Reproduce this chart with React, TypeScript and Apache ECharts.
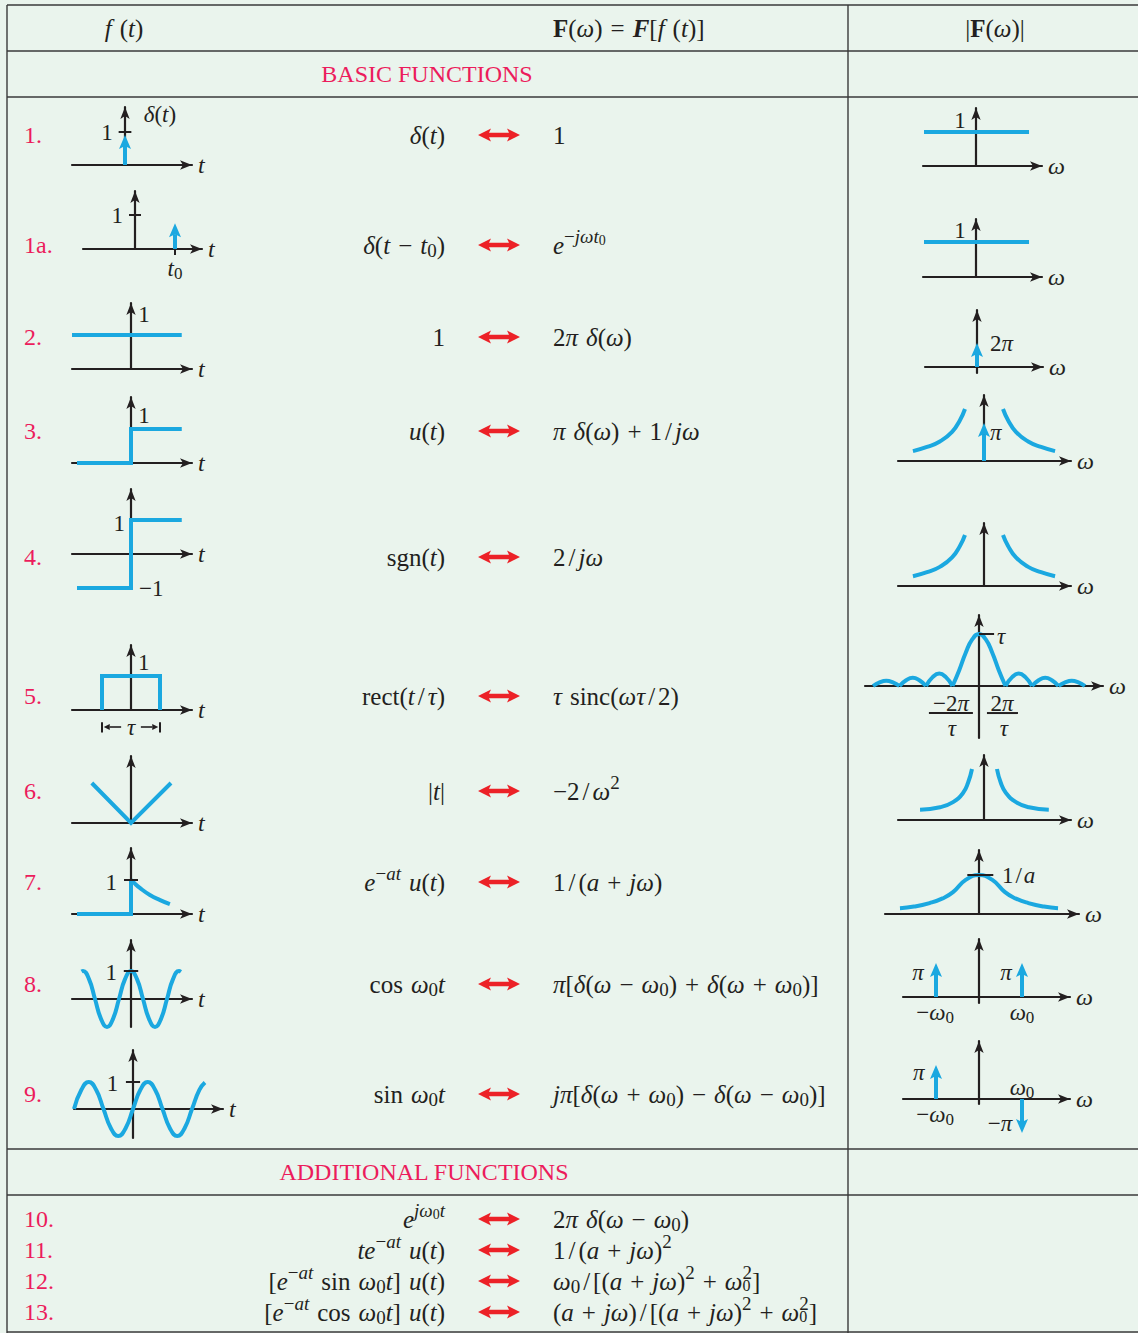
import React, { useEffect, useRef } from 'react';
import * as echarts from 'echarts';

const PAGE_W = 1138;
const PAGE_H = 1333;
const SERIF = '"Liberation Serif", "Times New Roman", "DejaVu Serif", serif';
const INK = '#231F20';
const BLUE = '#1BA8E0';
const PINK = '#EC1C5C';
const RED = '#EC2127';
const BG = '#EAF4ED';
const RULE = '#3A3A3A';

/* ---------------- table text ---------------- */
const rowLabels = ['1.', '1a.', '2.', '3.', '4.', '5.', '6.', '7.', '8.', '9.', '10.', '11.', '12.', '13.'];
const timeFunctions = [
  'δ(t)', 'δ(t − t_0)', '1', 'u(t)', 'sgn(t)', 'rect(t/τ)', '|t|', 'e^{−at} u(t)',
  'cos ω_0t', 'sin ω_0t', 'e^{jω_0t}', 'te^{−at} u(t)', '[e^{−at} sin ω_0t] u(t)', '[e^{−at} cos ω_0t] u(t)',
];
const transforms = [
  '1', 'e^{−jωt_0}', '2π δ(ω)', 'π δ(ω) + 1/jω', '2/jω', 'τ sinc(ωτ/2)', '−2/ω^2', '1/(a + jω)',
  'π[δ(ω − ω_0) + δ(ω + ω_0)]', 'jπ[δ(ω + ω_0) − δ(ω − ω_0)]', '2π δ(ω − ω_0)', '1/(a + jω)^2',
  'ω_0/[(a + jω)^2 + ω_0^2]', '(a + jω)/[(a + jω)^2 + ω_0^2]',
];
const sectionTitles = ['BASIC FUNCTIONS', 'ADDITIONAL FUNCTIONS'];

/* ---------------- sketch data (semantic units) ---------------- */
// row 1
const impulseAtOrigin = [[0, 0.91]];
const ticksRow1 = [[-0.12, 1, 0.12, 1]];
const flatMagnitude1 = [[-1, 1], [1.02, 1]];
// row 1a
const impulseShifted = [[1, 0.76]];
const ticksRow1a = [[-0.15, 1, 0.15, 1], [1, 0, 1, -0.18]];
const flatMagnitude1a = [[-1, 1], [1.02, 1]];
// row 2
const constantOne = [[-1, 1], [0.86, 1]];
const impulse2pi = [[0, 1]];
// row 3
const unitStep = [[-1, 0], [0, 0], [0, 1], [0.94, 1]];
const hyperbolaLeft = [[-3.74, 0.19], [-3.0, 0.27], [-2.3, 0.38], [-1.68, 0.56], [-1.26, 0.79], [-1, 1]];
const hyperbolaRight = [[1, 1], [1.26, 0.79], [1.68, 0.56], [2.3, 0.38], [3.0, 0.27], [3.74, 0.19]];
const impulsePi = [[0, 0.73]];
// row 4
const signum = [[-1, -1], [0, -1], [0, 1], [0.94, 1]];
// row 5
const rectPulse = [[-0.5, 0], [-0.5, 1], [0.5, 1], [0.5, 0]];
const tauBars = [[-0.5, -0.36, -0.5, -0.66], [0.5, -0.36, 0.5, -0.66]];
const tauArrows = [[-0.17, -0.5, -0.47, -0.5], [0.17, -0.5, 0.47, -0.5]];
const sincMainLobe = [[-1, 0], [-0.75, 0.3], [-0.5, 0.64], [-0.25, 0.9], [0, 1], [0.25, 0.9], [0.5, 0.64], [0.75, 0.3], [1, 0]];
const sincLobes = [
  [[-4, 0], [-3.75, 0.07], [-3.5, 0.1], [-3.25, 0.07], [-3, 0]],
  [[-3, 0], [-2.75, 0.11], [-2.5, 0.16], [-2.25, 0.11], [-2, 0]],
  [[-2, 0], [-1.75, 0.17], [-1.5, 0.24], [-1.25, 0.17], [-1, 0]],
  [[1, 0], [1.25, 0.17], [1.5, 0.24], [1.75, 0.17], [2, 0]],
  [[2, 0], [2.25, 0.11], [2.5, 0.16], [2.75, 0.11], [3, 0]],
  [[3, 0], [3.25, 0.07], [3.5, 0.1], [3.75, 0.07], [4, 0]],
];
const sincPeakTick = [[0, 1, 0.57, 1]];
const fractionBars = [[-1.89, -0.52, -0.23, -0.52], [0.3, -0.52, 1.47, -0.52]];
// row 6
const absT = [[-0.98, 1], [0, 0], [1, 1]];
const invSquareLeft = [[-5.33, 0.2], [-3.67, 0.25], [-2.58, 0.35], [-1.75, 0.53], [-1.33, 0.73], [-1, 1]];
const invSquareRight = [[1.08, 1], [1.4, 0.73], [1.83, 0.53], [2.67, 0.35], [3.75, 0.25], [5.4, 0.2]];
// row 7
const stepPart7 = [[-1, 0], [0, 0], [0, 1]];
const decay7 = [[0, 1], [0.04, 0.94], [0.17, 0.76], [0.35, 0.56], [0.54, 0.41], [0.72, 0.29]];
const ticksRow7 = [[-0.13, 1, 0.13, 1]];
const lorentzian = [[-3.04, 0.15], [-2.5, 0.19], [-1.9, 0.28], [-1.4, 0.4], [-1, 0.56], [-0.5, 0.88], [0, 1],
  [0.5, 0.88], [1, 0.56], [1.4, 0.4], [1.9, 0.28], [2.5, 0.19], [3.04, 0.15]];
const ticksRow7F = [[-0.45, 1, 0.55, 1]];
// row 8
const cosWave = [[-1.03, 0.98], [-1, 1], [-0.875, 0.71], [-0.75, 0], [-0.625, -0.71], [-0.5, -1], [-0.375, -0.71],
  [-0.25, 0], [-0.125, 0.71], [0, 1], [0.125, 0.71], [0.25, 0], [0.375, -0.71], [0.5, -1], [0.625, -0.71],
  [0.75, 0], [0.875, 0.71], [1, 1], [1.04, 0.97]];
const ticksRow8 = [[-0.15, 1, 0.15, 1]];
const cosImpulses = [[-1, 1], [1, 1]];
// row 9
const sinWave = [[-1, 0], [-0.875, 0.71], [-0.75, 1], [-0.625, 0.71], [-0.5, 0], [-0.375, -0.71], [-0.25, -1],
  [-0.125, -0.71], [0, 0], [0.125, 0.71], [0.25, 1], [0.375, 0.71], [0.5, 0], [0.625, -0.71], [0.75, -1],
  [0.875, -0.71], [1, 0], [1.125, 0.71], [1.22, 0.98]];
const ticksRow9 = [[-0.12, 1, 0.12, 1]];
const sinImpulses = [[-1, 1], [1, -1]];

/* ---------------- sketch definitions ---------------- */
type Ann = { at: number[]; text: string; align?: string };
type Sketch = {
  axis: string;
  curves?: { data: number[][]; smooth?: boolean }[];
  deltas?: number[][];
  ticks?: number[][];
  dims?: number[][];
  labels?: Ann[];
};

const sketches: Sketch[] = [
  { axis: 't', deltas: impulseAtOrigin, ticks: ticksRow1,
    labels: [{ at: [-0.23, 1.0], text: '1', align: 'right' }, { at: [0.66, 1.52], text: 'δ(t)' }] },
  { axis: 'ω', curves: [{ data: flatMagnitude1 }], labels: [{ at: [-0.31, 1.35], text: '1' }] },
  { axis: 't', deltas: impulseShifted, ticks: ticksRow1a,
    labels: [{ at: [-0.3, 1.0], text: '1', align: 'right' }, { at: [1, -0.56], text: 't_0' }] },
  { axis: 'ω', curves: [{ data: flatMagnitude1a }], labels: [{ at: [-0.31, 1.34], text: '1' }] },
  { axis: 't', curves: [{ data: constantOne }], labels: [{ at: [0.22, 1.59], text: '1' }] },
  { axis: 'ω', deltas: impulse2pi, labels: [{ at: [0.25, 1.0], text: '2π', align: 'left' }] },
  { axis: 't', curves: [{ data: unitStep }], labels: [{ at: [0.24, 1.41], text: '1' }] },
  { axis: 'ω', curves: [{ data: hyperbolaLeft, smooth: true }, { data: hyperbolaRight, smooth: true }],
    deltas: impulsePi, labels: [{ at: [0.32, 0.54], text: 'π', align: 'left' }] },
  { axis: 't', curves: [{ data: signum }],
    labels: [{ at: [-0.11, 0.91], text: '1', align: 'right' }, { at: [0.15, -1], text: '−1', align: 'left' }] },
  { axis: 'ω', curves: [{ data: hyperbolaLeft, smooth: true }, { data: hyperbolaRight, smooth: true }] },
  { axis: 't', curves: [{ data: rectPulse }], ticks: tauBars, dims: tauArrows,
    labels: [{ at: [0.22, 1.41], text: '1' }, { at: [0, -0.5], text: 'τ' }] },
  { axis: 'ω', curves: [{ data: sincMainLobe, smooth: true }, ...sincLobes.map((d) => ({ data: d, smooth: true }))],
    ticks: [...sincPeakTick, ...fractionBars],
    labels: [
      { at: [0.68, 0.95], text: 'τ', align: 'left' },
      { at: [-1.06, -0.33], text: '−2π' }, { at: [-1.02, -0.81], text: 'τ' },
      { at: [0.87, -0.33], text: '2π' }, { at: [0.94, -0.81], text: 'τ' },
    ] },
  { axis: 't', curves: [{ data: absT }] },
  { axis: 'ω', curves: [{ data: invSquareLeft, smooth: true }, { data: invSquareRight, smooth: true }] },
  { axis: 't', curves: [{ data: stepPart7 }, { data: decay7, smooth: true }], ticks: ticksRow7,
    labels: [{ at: [-0.26, 0.94], text: '1', align: 'right' }] },
  { axis: 'ω', curves: [{ data: lorentzian, smooth: true }], ticks: ticksRow7F,
    labels: [{ at: [0.88, 1.0], text: '1/a', align: 'left' }] },
  { axis: 't', curves: [{ data: cosWave, smooth: true }], ticks: ticksRow8,
    labels: [{ at: [-0.29, 0.93], text: '1', align: 'right' }] },
  { axis: 'ω', deltas: cosImpulses,
    labels: [
      { at: [-1.42, 0.71], text: 'π' }, { at: [0.63, 0.71], text: 'π' },
      { at: [-1.02, -0.47], text: '−ω_0' }, { at: [1.0, -0.47], text: 'ω_0' },
    ] },
  { axis: 't', curves: [{ data: sinWave, smooth: true }], ticks: ticksRow9,
    labels: [{ at: [-0.25, 0.96], text: '1', align: 'right' }] },
  { axis: 'ω', deltas: sinImpulses,
    labels: [
      { at: [-1.4, 0.79], text: 'π' }, { at: [-1.02, -0.47], text: '−ω_0' },
      { at: [1.0, 0.35], text: 'ω_0' }, { at: [0.49, -0.71], text: '−π' },
    ] },
];

/* ---------------- layout (px): origin x/y, px per unit x/y, axis extents ---------------- */
const sketchBoxes = [
  [125, 165, 53, 33, 72, 192, 107, 165],
  [976, 166, 52, 34, 923, 1042, 108, 166],
  [135, 249, 40, 34, 83, 202, 191, 249],
  [976, 277, 52, 35, 923, 1042, 219, 277],
  [131, 369, 59, 34, 72, 192, 303, 369],
  [977, 367, 52, 24, 925, 1043, 310, 373],
  [131, 463, 54, 34, 72, 192, 397, 463],
  [984, 461, 19, 52, 898, 1071, 395, 461],
  [131, 554, 54, 34, 72, 192, 489, 554],
  [984, 586, 19, 51, 898, 1071, 523, 586],
  [131, 710, 58, 34, 72, 192, 645, 710],
  [979, 686, 26.5, 52, 865, 1103, 615, 738],
  [131, 823, 40, 40, 72, 192, 756, 823],
  [984, 820, 12, 51, 898, 1071, 755, 820],
  [131, 914, 54, 34, 72, 192, 848, 914],
  [979, 914, 26, 39, 885, 1079, 850, 914],
  [131, 999, 48, 28, 72, 192, 940, 1027],
  [979, 997, 43, 34, 903, 1070, 939, 1003],
  [133, 1109, 59, 27, 74, 223, 1050, 1138],
  [979, 1099, 43, 34, 903, 1070, 1041, 1104],
];
const tableRowY = [135, 245, 337, 431, 557, 696, 791, 882, 984, 1094, 1219, 1250, 1281, 1312];

/* ---------------- rich text helpers ---------------- */
function makeRich(fs: number) {
  const lh = fs + 16;
  const sm = Math.round(fs * 0.74);
  const zs = Math.round(fs * 0.62);
  const xs = Math.round(fs * 0.56);
  const up = Math.round(fs * 0.66);
  const down = Math.round(fs * 0.44);
  const zDown = Math.round(fs * 0.3);
  const upSmall = Math.round(fs * 0.36);
  const s = (o: any) => ({ fontFamily: SERIF, fill: INK, color: INK, lineHeight: lh, verticalAlign: 'middle', ...o });
  return {
    n: s({ fontSize: fs }),
    i: s({ fontSize: fs, fontStyle: 'italic' }),
    b: s({ fontSize: fs, fontWeight: 'bold' }),
    bi: s({ fontSize: fs, fontWeight: 'bold', fontStyle: 'italic' }),
    w: s({ fontSize: fs, width: Math.round(fs * 0.32) }),
    sl: s({ fontSize: fs, padding: [0, Math.round(fs * 0.1), 0, Math.round(fs * 0.1)] }),
    p: s({ fontSize: sm, padding: [0, 0, up, 0] }),
    pi: s({ fontSize: sm, fontStyle: 'italic', padding: [0, 0, up, 0] }),
    q: s({ fontSize: sm, padding: [down, 0, 0, 0] }),
    qi: s({ fontSize: sm, fontStyle: 'italic', padding: [down, 0, 0, 0] }),
    z: s({ fontSize: zs, width: 0.01, padding: [zDown, 0, 0, 0] }),
    pp: s({ fontSize: xs, padding: [0, 0, upSmall, 0] }),
    ppi: s({ fontSize: xs, fontStyle: 'italic', padding: [0, 0, upSmall, 0] }),
  };
}
const TABLE_RICH = makeRich(25);
const SKETCH_RICH = makeRich(23);

const UPRIGHT_WORDS = ['sinc', 'sgn', 'rect', 'cos', 'sin'];
function mathRich(src: string): string {
  const toks: { st: string; tx: string }[] = [];
  const push = (st: string, tx: string) => {
    const last = toks[toks.length - 1];
    const solo = st === 'z' || st === 'w' || st === 'sl';
    if (last && !solo && last.st === st) last.tx += tx;
    else toks.push({ st, tx });
  };
  const styleOf = (lvl: string, it: boolean) => {
    if (lvl === 'z') return 'z';
    if (lvl === 'b') return it ? 'i' : 'n';
    return it ? lvl + 'i' : lvl;
  };
  const walk = (s: string, lvl: string) => {
    let i = 0;
    while (i < s.length) {
      const c = s[i];
      if (c === '^' || c === '_') {
        let g: string;
        let j: number;
        if (s[i + 1] === '{') {
          let depth = 0;
          j = i + 1;
          for (; j < s.length; j++) {
            if (s[j] === '{') depth++;
            else if (s[j] === '}') { depth--; if (depth === 0) break; }
          }
          g = s.slice(i + 2, j);
          j++;
        } else { g = s[i + 1]; j = i + 2; }
        let nl: string;
        if (c === '^') nl = lvl === 'b' ? 'p' : 'pp';
        else nl = lvl === 'b' ? (s[j] === '^' ? 'z' : 'q') : 'pp';
        walk(g, nl);
        i = j;
        continue;
      }
      const w = UPRIGHT_WORDS.find((u) => s.startsWith(u, i));
      if (w) { push(styleOf(lvl, false), w); i += w.length; continue; }
      if (c === ' ') {
        push(lvl === 'b' ? 'w' : styleOf(lvl, false), ' ');
        i++;
        continue;
      }
      if (c === '/' && lvl === 'b') { push('sl', '/'); i++; continue; }
      push(styleOf(lvl, /[A-Za-z\u03B1-\u03C9]/.test(c)), c);
      i++;
    }
  };
  walk(src, 'b');
  return toks.map((t) => `{${t.st}|${t.tx}}`).join('');
}

/* ---------------- series builders ---------------- */
function lineSeries(k: number, data: number[][], smooth?: boolean) {
  return {
    type: 'line', xAxisIndex: k, yAxisIndex: k, data, smooth: smooth ? 0.5 : false,
    symbol: 'none', showSymbol: false, clip: false, silent: true, z: 3,
    lineStyle: { color: BLUE, width: 4, cap: 'butt', join: 'miter' },
  };
}
function deltaSeries(k: number, data: number[][]) {
  return {
    type: 'custom', xAxisIndex: k, yAxisIndex: k, data, clip: false, silent: true, z: 4,
    encode: { x: 0, y: 1 },
    renderItem: (_p: any, api: any) => {
      const x = api.value(0);
      const h = api.value(1);
      const a = api.coord([x, 0]);
      const b = api.coord([x, h]);
      const s = h >= 0 ? 1 : -1;
      const baseY = b[1] + s * 14;
      const notchY = b[1] + s * 11;
      return {
        type: 'group',
        children: [
          { type: 'line', shape: { x1: a[0], y1: a[1], x2: a[0], y2: notchY }, style: { stroke: BLUE, lineWidth: 4 } },
          { type: 'polygon', shape: { points: [[b[0], b[1]], [b[0] + 6, baseY], [b[0], notchY], [b[0] - 6, baseY]] }, style: { fill: BLUE } },
        ],
      };
    },
  };
}
function segSeries(k: number, data: number[][], width: number, head: boolean) {
  return {
    type: 'custom', xAxisIndex: k, yAxisIndex: k, data, clip: false, silent: true, z: 4,
    encode: { x: [0, 2], y: [1, 3] },
    renderItem: (_p: any, api: any) => {
      const a = api.coord([api.value(0), api.value(1)]);
      const b = api.coord([api.value(2), api.value(3)]);
      const children: any[] = [];
      if (head) {
        const dx = b[0] - a[0];
        const dy = b[1] - a[1];
        const len = Math.sqrt(dx * dx + dy * dy) || 1;
        const ux = dx / len;
        const uy = dy / len;
        const bx = b[0] - ux * 6;
        const by = b[1] - uy * 6;
        children.push({ type: 'line', shape: { x1: a[0], y1: a[1], x2: bx, y2: by }, style: { stroke: INK, lineWidth: width } });
        children.push({ type: 'polygon', shape: { points: [[b[0], b[1]], [bx - uy * 3, by + ux * 3], [bx + uy * 3, by - ux * 3]] }, style: { fill: INK } });
      } else {
        children.push({ type: 'line', shape: { x1: a[0], y1: a[1], x2: b[0], y2: b[1] }, style: { stroke: INK, lineWidth: width } });
      }
      return { type: 'group', children };
    },
  };
}
function labelSeries(k: number, anns: Ann[]) {
  return {
    type: 'custom', xAxisIndex: k, yAxisIndex: k, data: anns.map((a) => a.at), clip: false, silent: true, z: 5,
    encode: { x: 0, y: 1 },
    renderItem: (p: any, api: any) => {
      const a = anns[p.dataIndex];
      const c = api.coord([api.value(0), api.value(1)]);
      return {
        type: 'text', x: c[0], y: c[1],
        style: { text: mathRich(a.text), rich: SKETCH_RICH, align: a.align || 'center', verticalAlign: 'middle' },
      };
    },
  };
}

function doubleArrow(cx: number, cy: number) {
  const L = 21, hl = 13, hh = 6.5, sh = 2.2;
  return {
    type: 'polygon', silent: true,
    shape: {
      points: [
        [cx - L, cy], [cx - L + hl, cy - hh], [cx - L + hl - 2, cy - sh], [cx + L - hl + 2, cy - sh],
        [cx + L - hl, cy - hh], [cx + L, cy], [cx + L - hl, cy + hh], [cx + L - hl + 2, cy + sh],
        [cx - L + hl - 2, cy + sh], [cx - L + hl, cy + hh],
      ],
    },
    style: { fill: RED },
  };
}

function buildOption() {
  const grids: any[] = [];
  const xAxes: any[] = [];
  const yAxes: any[] = [];
  const series: any[] = [];
  const axisLine = { show: true, onZero: true, symbol: ['none', 'arrow'], symbolSize: [7, 12], lineStyle: { color: INK, width: 2.2 } };

  sketches.forEach((sk, k) => {
    const [ox, oy, sx, sy, l, r, t, b] = sketchBoxes[k];
    grids.push({ left: l, top: t, width: r - l, height: b - t, containLabel: false });
    xAxes.push({
      gridIndex: k, type: 'value', min: (l - ox) / sx, max: (r - ox) / sx,
      axisLine, axisTick: { show: false }, axisLabel: { show: false }, splitLine: { show: false },
      name: sk.axis, nameLocation: 'end', nameGap: 6,
      nameTextStyle: { fontFamily: SERIF, fontStyle: 'italic', fontSize: 24, color: INK },
    });
    yAxes.push({
      gridIndex: k, type: 'value', min: (oy - b) / sy, max: (oy - t) / sy,
      axisLine, axisTick: { show: false }, axisLabel: { show: false }, splitLine: { show: false },
    });
    (sk.curves || []).forEach((c) => series.push(lineSeries(k, c.data, c.smooth)));
    if (sk.ticks) series.push(segSeries(k, sk.ticks, 2, false));
    if (sk.dims) series.push(segSeries(k, sk.dims, 1.6, true));
    if (sk.deltas) series.push(deltaSeries(k, sk.deltas));
    if (sk.labels) series.push(labelSeries(k, sk.labels));
  });

  const g: any[] = [];
  [5, 51, 97, 1149, 1195, 1332].forEach((y) =>
    g.push({ type: 'line', silent: true, shape: { x1: 7, y1: y, x2: PAGE_W, y2: y }, style: { stroke: RULE, lineWidth: 1.4 } }));
  [7, 848].forEach((x) =>
    g.push({ type: 'line', silent: true, shape: { x1: x, y1: 5, x2: x, y2: PAGE_H }, style: { stroke: RULE, lineWidth: 1.4 } }));

  // headers
  g.push({ type: 'text', x: 124, y: 28, silent: true, style: { text: mathRich('f (t)'), rich: TABLE_RICH, align: 'center', verticalAlign: 'middle' } });
  g.push({ type: 'text', x: 553, y: 28, silent: true, style: {
    text: '{b|F}{n|(}{i|ω}{n|)}{w| }{n|=}{w| }{bi|F}{n|[}{i|f}{w| }{n|(}{i|t}{n|)}{n|]}', rich: TABLE_RICH, align: 'left', verticalAlign: 'middle' } });
  g.push({ type: 'text', x: 995, y: 28, silent: true, style: {
    text: '{n||}{b|F}{n|(}{i|ω}{n|)}{n||}', rich: TABLE_RICH, align: 'center', verticalAlign: 'middle' } });
  g.push({ type: 'text', x: 427, y: 74, silent: true, style: { text: sectionTitles[0], fill: PINK, fontFamily: SERIF, fontSize: 24, align: 'center', verticalAlign: 'middle' } });
  g.push({ type: 'text', x: 424, y: 1172, silent: true, style: { text: sectionTitles[1], fill: PINK, fontFamily: SERIF, fontSize: 24, align: 'center', verticalAlign: 'middle' } });

  rowLabels.forEach((lab, r) => {
    const y = tableRowY[r];
    g.push({ type: 'text', x: 24, y, silent: true, style: { text: lab, fill: PINK, fontFamily: SERIF, fontSize: 24, align: 'left', verticalAlign: 'middle' } });
    g.push({ type: 'text', x: 445, y, silent: true, style: { text: mathRich(timeFunctions[r]), rich: TABLE_RICH, align: 'right', verticalAlign: 'middle' } });
    g.push({ type: 'text', x: 553, y, silent: true, style: { text: mathRich(transforms[r]), rich: TABLE_RICH, align: 'left', verticalAlign: 'middle' } });
    g.push(doubleArrow(499, y));
  });

  return {
    animation: false,
    backgroundColor: BG,
    textStyle: { fontFamily: SERIF },
    grid: grids,
    xAxis: xAxes,
    yAxis: yAxes,
    series,
    graphic: { elements: g },
  };
}

export default function App() {
  const ref = useRef<HTMLDivElement>(null);
  useEffect(() => {
    document.body.style.margin = '0';
    const chart = echarts.init(ref.current as HTMLDivElement, undefined, { renderer: 'svg', width: PAGE_W, height: PAGE_H });
    chart.setOption(buildOption() as any);
    return () => chart.dispose();
  }, []);
  return <div ref={ref} style={{ width: PAGE_W, height: PAGE_H, position: 'absolute', left: 0, top: 0 }} />;
}
